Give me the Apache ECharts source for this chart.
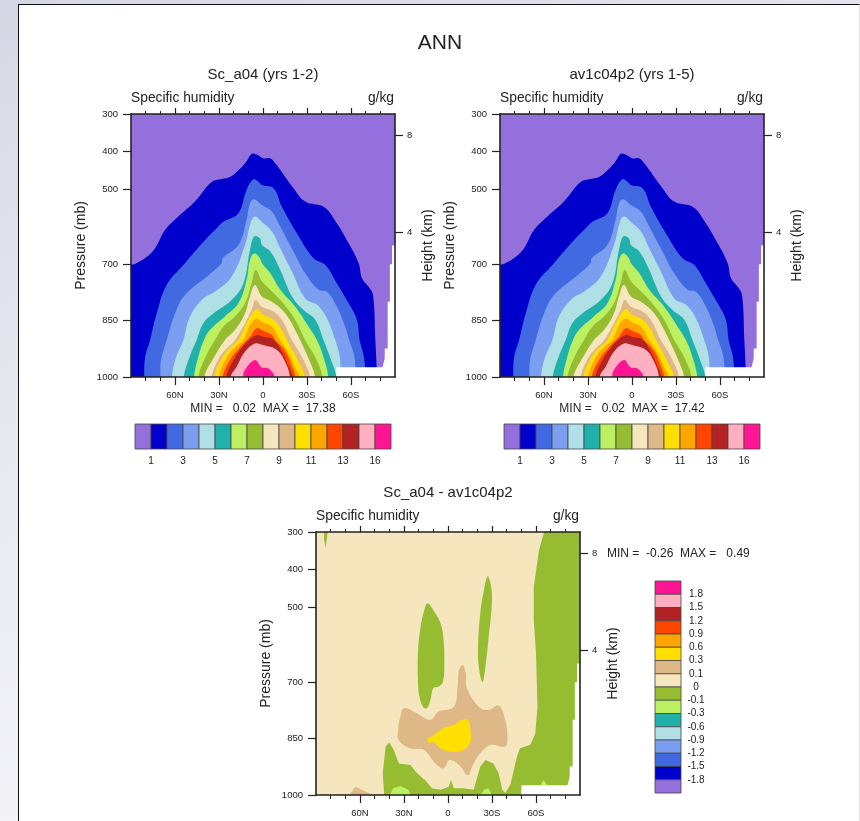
<!DOCTYPE html>
<html>
<head>
<meta charset="utf-8">
<script src="https://cdn.jsdelivr.net/npm/echarts@6/dist/echarts.min.js"></script>
<style>
    html, body { margin: 0; padding: 0; width: 860px; height: 821px; overflow: hidden; }
    body { background: linear-gradient(160deg, #d6d7e4 0%, #e6e7ef 35%, #f8f8fb 90%); }
    #page { position: absolute; left: 18px; top: 4px; width: 840px; height: 817px; background: #fff;
            border-top: 1.5px solid #111; border-left: 1.5px solid #111; border-right: 1px solid #e2e2e2; }
    #main { position: absolute; left: 0; top: 0; width: 860px; height: 821px; }
</style>
</head>
<body>
<div id="page"></div>
<div id="main"></div>
<script>
    // colour levels, low to high
    const levelColors = ['#9370db', '#0000cd', '#4169e1', '#7b9ef0', '#b0e0e6', '#20b2aa', '#bdf060', '#96bc32',
        '#f5e6be', '#deb887', '#ffdf00', '#ffa500', '#ff4500', '#b22222', '#ffb0c0', '#ff1493'];

    const pressureTicks = [300, 400, 500, 700, 850, 1000];
    const heightTickPressure = [356, 616];
    const heightLabels = ['8', '4'];
    const latTicks = [-60, -30, 0, 30, 60];
    const latLabels = ['60N', '30N', '0', '30S', '60S'];

    const meanBarTicks = [1, 3, 5, 7, 9, 11, 13, 15];
    const meanBarLabels = ['1', '3', '5', '7', '9', '11', '13', '16'];
    const diffBarTicks = [1, 2, 3, 4, 5, 6, 7, 8, 9, 10, 11, 12, 13, 14, 15];
    const diffBarLabels = ['1.8', '1.5', '1.2', '0.9', '0.6', '0.3', '0.1', '0', '-0.1', '-0.3', '-0.6', '-0.9', '-1.2', '-1.5', '-1.8'];

    // whole domain and the below-ground hole, [lat (N negative), pressure]
    const domain = [[-90, 300], [90, 300], [90, 1000], [-90, 1000]];
    const missing = [[50, 1000], [50, 974], [81.5, 974], [83, 950], [83, 924], [85, 924], [85, 800], [86.5, 800],
        [86.5, 700], [88, 700], [88, 650], [90, 650], [90, 1000]];

    // specific humidity contours, [lat, pressure]
    const q1 = [[-90, 703], [-87.3, 699], [-80.5, 684], [-73.7, 658], [-66.8, 609], [-57.7, 573], [-46.4, 533], [-35, 481], [-28, 473], [-22.5, 468], [-15.7, 446], [-11, 425], [-7.7, 406], [-4.3, 408], [0.2, 418], [4.8, 418], [8, 430], [11.8, 449], [20.9, 498], [28.8, 533], [41.3, 547], [48.2, 578], [58.4, 644], [65.2, 697], [67.5, 737], [72, 760], [75, 782], [76.6, 902], [77.5, 974], [77.5, 1000]];
    const q2 = [[-81, 1000], [-80.3, 946], [-77, 902], [-72.5, 831], [-65.7, 755], [-54.3, 702], [-38.4, 631], [-31.6, 604], [-27, 587], [-16.8, 564], [-11.2, 502], [-6.6, 474], [-3.2, 480], [-0.7, 489], [7.3, 498], [12.9, 547], [23.2, 618], [34.5, 684], [42.5, 702], [50.4, 751], [58.4, 804], [64, 848], [65.9, 902], [68.5, 940], [69.5, 974], [69.5, 1000]];
    const q3 = [[-70, 1000], [-69.5, 955], [-65.7, 902], [-60, 831], [-53.2, 782], [-38.4, 733], [-28.2, 697], [-27.5, 684], [-16.8, 649], [-11.2, 582], [-8.9, 538], [-6, 527], [-2.1, 538], [-0.7, 542], [6.1, 560], [11.8, 600], [22, 675], [28.8, 724], [37.9, 768], [43.6, 773], [50.4, 813], [56, 866], [58.8, 902], [62, 940], [63, 974], [63, 1000]];
    const q4 = [[-62, 1000], [-59.5, 950], [-54.3, 902], [-49.8, 839], [-40.7, 791], [-32.8, 773], [-21.4, 733], [-12.3, 649], [-7.8, 582], [-5, 573], [-1, 587], [6.1, 613], [11.8, 658], [19.8, 720], [28.8, 791], [36.8, 808], [43.6, 844], [49.3, 902], [52.5, 950], [52.5, 1000]];
    const q5 = [[-54, 1000], [-50, 946], [-45.3, 902], [-40.7, 857], [-33.9, 831], [-21.4, 795], [-13.4, 751], [-8.9, 662], [-6, 626], [-2.1, 631], [-0.7, 649], [5, 666], [11.8, 715], [19.8, 786], [27.7, 822], [35.7, 848], [41.3, 902], [46, 950], [50, 1000]];
    const q6 = [[-47, 1000], [-44, 945], [-40.3, 902], [-36.2, 875], [-26, 839], [-16.8, 804], [-11.2, 742], [-8.9, 689], [-6, 671], [-2.1, 684], [-0.7, 697], [5, 724], [11.8, 768], [22, 813], [31.1, 866], [36.8, 902], [41.5, 950], [44.5, 1000]];
    const q7 = [[-44, 1000], [-39, 945], [-32.8, 902], [-27, 866], [-19.1, 839], [-12.3, 804], [-7.8, 751], [-5, 715], [-0.7, 745], [5, 768], [12.9, 800], [22, 848], [28.8, 902], [36, 950], [40.5, 1000]];
    const q8 = [[-40, 1000], [-33, 945], [-26, 902], [-19.1, 875], [-12.3, 831], [-8.9, 786], [-5.5, 755], [-0.7, 786], [6.1, 800], [15.2, 831], [23.2, 884], [25.4, 902], [31, 950], [35.5, 1000]];
    const q9 = [[-35, 1000], [-30, 950], [-25, 925], [-19.1, 902], [-12.3, 857], [-7.8, 822], [-5, 795], [-0.7, 813], [7.3, 826], [12.9, 848], [19.8, 902], [27, 950], [32, 1000]];
    const q10 = [[-33, 1000], [-28, 950], [-22.5, 922], [-16.8, 902], [-10, 848], [-4.3, 820], [-0.7, 832], [7.3, 848], [12.9, 875], [16.3, 902], [23, 950], [28.5, 1000]];
    const q11 = [[-30, 1000], [-25, 950], [-19, 920], [-13.4, 902], [-8.9, 862], [-4.3, 844], [-0.7, 853], [6.1, 866], [11.8, 902], [18, 940], [22, 975], [25, 1000]];
    const q12 = [[-27.5, 1000], [-22.5, 955], [-16, 922], [-8.9, 893], [-4.3, 870], [0, 877], [6.1, 888], [8.4, 902], [15, 930], [19.5, 970], [22, 1000]];
    const q13 = [[-25, 1000], [-20, 955], [-14, 920], [-9, 900], [-4.3, 888], [0, 893], [7, 900], [12.5, 930], [17, 968], [20, 1000]];
    const q14 = [[-22, 1000], [-18, 973], [-12.3, 933], [-5.5, 911], [0, 915], [9.5, 928], [15, 959], [18.4, 1000]];
    const q15 = [[-13.5, 1000], [-12.3, 981], [-5.5, 955], [-1, 974], [3.5, 977], [8, 1000]];
    const qContours = [q1, q2, q3, q4, q5, q6, q7, q8, q9, q10, q11, q12, q13, q14, q15];

    // difference panel contours
    const diffOlive = [[-43.5, 1000], [-44.5, 942], [-42.5, 871], [-40, 860], [-37, 880], [-33.5, 916], [-25.5, 920], [-22, 938], [-17.5, 955], [-15.5, 960], [-11, 982], [-5, 986], [0.5, 978], [2, 960], [4, 982], [10.5, 982], [17.5, 986], [22, 924], [25.5, 907], [31, 916], [34.5, 942], [37, 986], [39, 995], [42.5, 973], [47, 898], [49, 876], [52.5, 871], [56, 867], [59.5, 836], [61, 765], [60, 623], [58.5, 535], [58.5, 446], [62, 349], [65.5, 300], [90, 300], [90, 1000]];
    const diffIslandN = [[-14, 490], [-16.5, 513], [-19, 561], [-20.5, 623], [-20.5, 694], [-19.5, 738], [-17, 765], [-14.5, 769], [-12, 747], [-10, 716], [-6.5, 712], [-3.5, 699], [-2.5, 650], [-3, 588], [-5, 544], [-10, 508]];
    const diffIslandS = [[27, 418], [24.5, 455], [22, 517], [20.5, 606], [21, 659], [23.5, 699], [25.5, 659], [27.5, 588], [30, 482], [29, 437]];
    const diffSliver = [[-84.5, 300], [-82, 300], [-83.5, 344], [-84.5, 318]];
    const diffTan = [[-30, 769], [-21, 783], [-12, 800], [-6.5, 778], [4, 765], [6.5, 712], [7.5, 668], [10, 654], [12, 676], [13, 716], [21, 765], [27.5, 774], [34.5, 762], [39, 800], [40.5, 845], [39, 871], [29, 867], [22, 889], [16.5, 924], [13.5, 947], [7.5, 920], [1, 907], [-3, 929], [-8.5, 916], [-16.5, 880], [-25.5, 876], [-33.5, 854], [-34, 827], [-32.5, 792]];
    const diffYellow = [[-14, 849], [-11, 845], [-4, 823], [4, 814], [8.5, 802], [13.5, 800], [15.5, 836], [15, 862], [10.5, 880], [1.5, 885], [-5, 876], [-10, 858], [-13, 862]];
    const diffLimeA = [[-39.5, 1000], [-37.5, 982], [-32.5, 976], [-27, 986], [-25.5, 1000]];
    const diffLimeB = [[22, 1000], [24.5, 986], [27.5, 982], [30, 1000]];
    const diffLimeC = [[63, 975], [65, 960], [68, 975]];
    const diffTanLow = [[-67.5, 1000], [-65.5, 991], [-63, 978], [-61, 982], [-56.5, 991], [-50.5, 1000]];

    // contours run to the ground, so close them below the axis and let the grid clip them
    function closeBelow(pts) {
        const first = pts[0], last = pts[pts.length - 1];
        return pts.concat([[last[0], 1060], [first[0], 1060]]);
    }

    const meanRegions = [{ pts: domain, color: levelColors[0] }]
        .concat(qContours.map((pts, i) => ({ pts: closeBelow(pts), color: levelColors[i + 1], smooth: true })))
        .concat([{ pts: missing, color: '#fff' }]);

    const diffRegions = [
        { pts: domain, color: levelColors[8] },
        { pts: diffTanLow, color: levelColors[9] },
        { pts: diffOlive, color: levelColors[7] },
        { pts: diffIslandN, color: levelColors[7], smooth: true },
        { pts: diffIslandS, color: levelColors[7], smooth: true },
        { pts: diffSliver, color: levelColors[7] },
        { pts: diffLimeA, color: levelColors[6] },
        { pts: diffLimeB, color: levelColors[6] },
        { pts: diffLimeC, color: levelColors[6] },
        { pts: diffTan, color: levelColors[9], smooth: true },
        { pts: diffYellow, color: levelColors[10], smooth: true },
        { pts: missing, color: '#fff' }
    ];

    const font = '"Liberation Sans", Arial, sans-serif';
    const ink = '#222';
    const option = { animation: false, backgroundColor: 'transparent', title: [], grid: [], xAxis: [], yAxis: [], series: [] };

    function addText(text, x, y, size, align) {
        option.title.push({
            text: text, left: x, top: y, textAlign: align || 'center', textVerticalAlign: 'middle',
            padding: 0, textStyle: { fontFamily: font, fontSize: size, fontWeight: 'normal', color: ink }
        });
    }

    function contourSeries(regions, axisIdx) {
        return {
            type: 'custom', xAxisIndex: axisIdx, yAxisIndex: axisIdx, silent: true, z: 2, clip: true,
            data: regions.map((r, i) => [i]),
            renderItem: function (params, api) {
                const r = regions[params.dataIndex];
                return {
                    type: 'polygon',
                    shape: { points: r.pts.map(p => api.coord(p)), smooth: r.smooth ? 0.4 : 0 },
                    style: { fill: r.color }
                };
            }
        };
    }

    function addPanel(left, top, regions) {
        const g = option.grid.length;
        option.grid.push({ left: left, top: top, width: 264, height: 263 });
        const line = { show: true, onZero: false, lineStyle: { color: ink, width: 1.6 } };
        const tickStyle = { color: ink, width: 1.2 };
        const a = option.xAxis.length;

        // bottom and top latitude axes
        [['bottom', true, 8, 4], ['top', false, 6, 3]].forEach(d => {
            option.xAxis.push({
                type: 'value', gridIndex: g, position: d[0], min: -90, max: 90, interval: 30, z: 5,
                axisLine: line, splitLine: { show: false },
                axisTick: { show: true, length: d[2], lineStyle: tickStyle, customValues: latTicks },
                minorTick: { show: true, splitNumber: 3, length: d[3], lineStyle: { color: ink, width: 1 } },
                axisLabel: {
                    show: d[1], customValues: latTicks, margin: 13, fontFamily: font, fontSize: 9.5, color: ink,
                    formatter: v => latLabels[latTicks.indexOf(v)]
                }
            });
        });
        // pressure on the left, height on the right
        option.yAxis.push({
            type: 'value', gridIndex: g, position: 'left', inverse: true, min: 300, max: 1000, z: 5,
            name: 'Pressure (mb)', nameLocation: 'middle', nameGap: 43, nameRotate: 90,
            nameTextStyle: { fontFamily: font, fontSize: 14, color: ink },
            axisLine: line, splitLine: { show: false },
            axisTick: { show: true, length: 8, lineStyle: tickStyle, customValues: pressureTicks },
            axisLabel: { customValues: pressureTicks, margin: 13, fontFamily: font, fontSize: 9.5, color: ink, formatter: v => String(v) }
        });
        option.yAxis.push({
            type: 'value', gridIndex: g, position: 'right', inverse: true, min: 300, max: 1000, z: 5,
            name: 'Height (km)', nameLocation: 'middle', nameGap: 26, nameRotate: 90,
            nameTextStyle: { fontFamily: font, fontSize: 14, color: ink },
            axisLine: line, splitLine: { show: false },
            axisTick: { show: true, length: 8, lineStyle: tickStyle, customValues: heightTickPressure },
            axisLabel: {
                customValues: heightTickPressure, margin: 12, fontFamily: font, fontSize: 9.5, color: ink,
                formatter: v => heightLabels[heightTickPressure.indexOf(v)]
            }
        });
        option.series.push(contourSeries(regions, a));
        // second x/y pair only carries the top and right axes
        option.series.push({ type: 'custom', xAxisIndex: a + 1, yAxisIndex: a + 1, data: [], renderItem: function () {} });
    }

    function addColorBar(left, top, width, height, vertical, colors, ticks, labels) {
        const g = option.grid.length;
        const a = option.xAxis.length;
        option.grid.push({ left: left, top: top, width: width, height: height });
        const barAxis = {
            type: 'value', gridIndex: g, min: 0, max: 16, interval: 1,
            axisLine: { show: false }, axisTick: { show: false }, splitLine: { show: false },
            axisLabel: {
                customValues: ticks, fontFamily: font, fontSize: 10, color: ink, margin: vertical ? 15 : 7,
                align: vertical ? 'center' : undefined,
                formatter: v => labels[ticks.indexOf(v)]
            }
        };
        const crossAxis = { type: 'value', gridIndex: g, min: 0, max: 1, interval: 1, show: false };
        if (vertical) {
            barAxis.position = 'right';
            barAxis.inverse = true;
            option.xAxis.push(crossAxis);
            option.yAxis.push(barAxis);
        } else {
            option.xAxis.push(barAxis);
            option.yAxis.push(crossAxis);
        }
        option.series.push({
            type: 'custom', xAxisIndex: a, yAxisIndex: a, silent: true,
            data: colors.map((c, i) => [i]),
            renderItem: function (params, api) {
                const i = params.dataIndex;
                const p0 = vertical ? api.coord([0, i]) : api.coord([i, 1]);
                const p1 = vertical ? api.coord([1, i + 1]) : api.coord([i + 1, 0]);
                return {
                    type: 'rect',
                    shape: { x: p0[0], y: p0[1], width: p1[0] - p0[0], height: p1[1] - p0[1] },
                    style: { fill: colors[i], stroke: '#444', lineWidth: 0.8 }
                };
            }
        });
    }

    addText('ANN', 440, 43, 21);

    addText('Sc_a04 (yrs 1-2)', 263, 75, 15);
    addText('Specific humidity', 131, 98, 13.8, 'left');
    addText('g/kg', 394, 98, 13.8, 'right');
    addText('MIN =   0.02  MAX =  17.38', 263, 409, 12);
    addPanel(131, 114, meanRegions);
    addColorBar(135, 424, 256, 25, false, levelColors, meanBarTicks, meanBarLabels);

    addText('av1c04p2 (yrs 1-5)', 632, 75, 15);
    addText('Specific humidity', 500, 98, 13.8, 'left');
    addText('g/kg', 763, 98, 13.8, 'right');
    addText('MIN =   0.02  MAX =  17.42', 632, 409, 12);
    addPanel(500, 114, meanRegions);
    addColorBar(504, 424, 256, 25, false, levelColors, meanBarTicks, meanBarLabels);

    addText('Sc_a04 - av1c04p2', 448, 493, 15);
    addText('Specific humidity', 316, 516, 13.8, 'left');
    addText('g/kg', 579, 516, 13.8, 'right');
    addText('MIN =  -0.26  MAX =   0.49', 607, 554, 12, 'left');
    addPanel(316, 532, diffRegions);
    addColorBar(655, 581, 26, 212, true, levelColors.slice().reverse(), diffBarTicks, diffBarLabels);

    const myChart = echarts.init(document.getElementById('main'), null, { renderer: 'canvas' });
    myChart.setOption(option);
</script>
</body>
</html>
